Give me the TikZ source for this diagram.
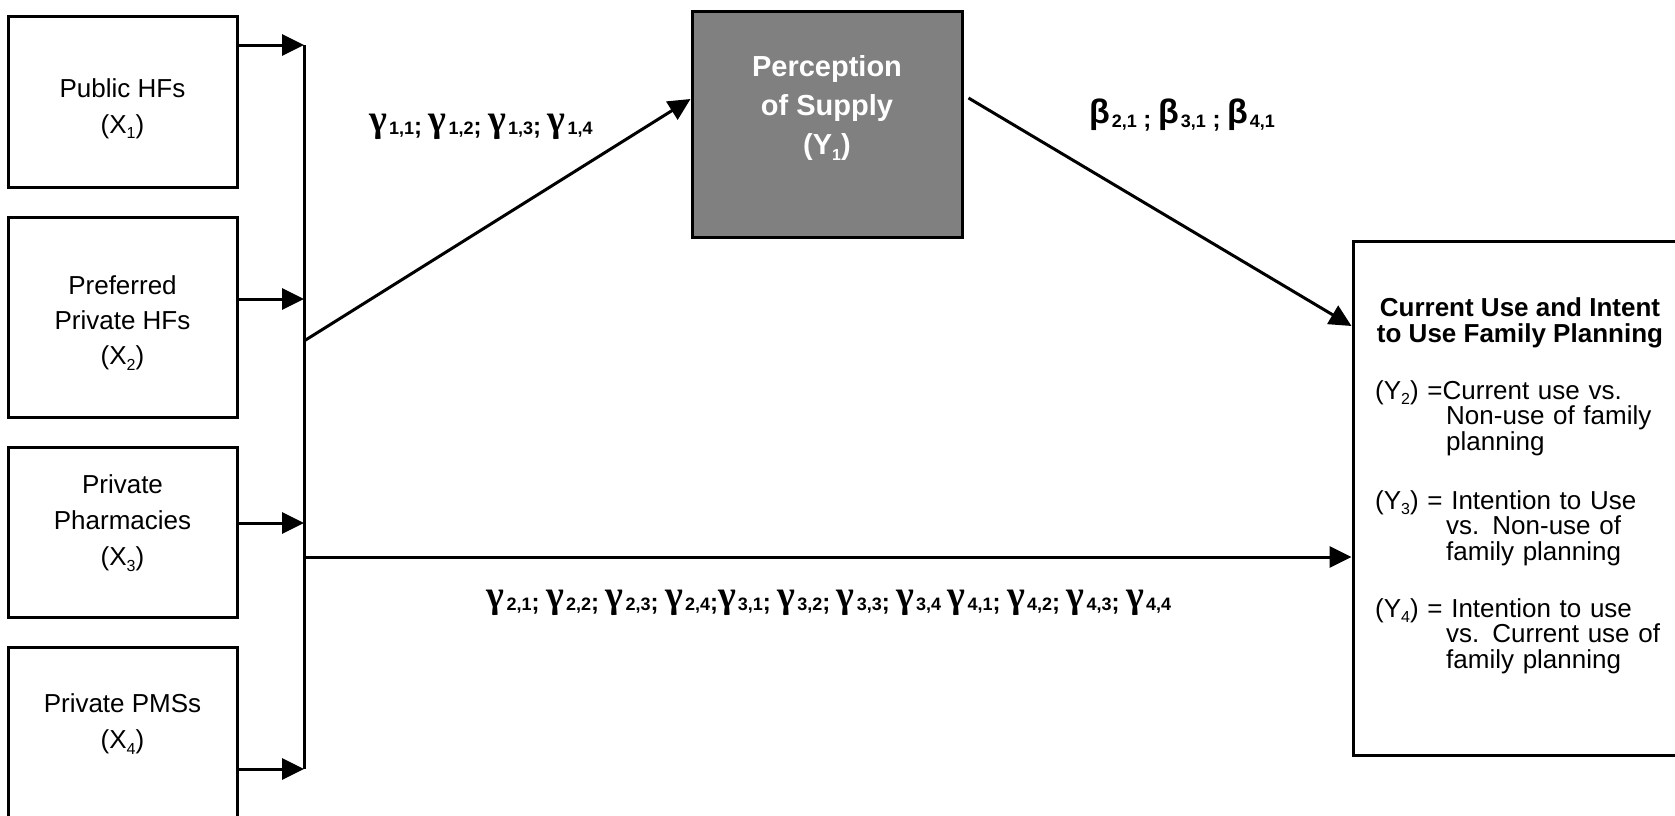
\documentclass[tikz,border=0pt]{standalone}
\usepackage{fontspec}
\setmainfont{Liberation Sans}
\newfontfamily\greekserif{Liberation Serif}
\usetikzlibrary{arrows.meta,calc}
\newcommand\sbs[1]{\raisebox{-0.22em}{\fontsize{16}{16}\selectfont #1}}
\newcommand\gm[1]{\raisebox{3.5pt}{\greekserif\bfseries\fontsize{38}{38}\selectfont γ}\kern2pt{\fontsize{18}{18}\selectfont #1}}
\newcommand\bt[1]{\raisebox{4pt}{\bfseries\fontsize{34}{34}\selectfont β}\kern2pt{\fontsize{18}{18}\selectfont #1}}
\tikzset{
  box/.style={draw, line width=3pt, inner sep=0pt},
  lbl/.style={align=center, inner sep=0pt, font=\fontsize{26}{36}\selectfont},
  conn/.style={line width=3pt},
  arr/.style={line width=3pt, -{Triangle[length=22pt,width=21pt]}},
  coef/.style={inner sep=0pt, font=\bfseries\fontsize{24}{24}\selectfont},
  item/.style={anchor=west, inner sep=0pt, text width=300pt, align=left, font=\fontsize{26}{25.5}\selectfont}
}
\begin{document}
\begin{tikzpicture}[x=1pt,y=-1pt]
\useasboundingbox (0,0) rectangle (1675,815);
\fill[white] (0,0) rectangle (1675,815);
\clip (0,0) rectangle (1675,815);
% left boxes
\node[box, minimum width=229pt, minimum height=171pt] (x1) at (122.5,101.5) {};
\node[box, minimum width=229pt, minimum height=200pt] (x2) at (122.5,317) {};
\node[box, minimum width=229pt, minimum height=170pt] (x3) at (122.5,532) {};
\node[box, minimum width=229pt, minimum height=203pt] (x4) at (122.5,748.5) {};
\node[lbl] (t1) at (122.5,108.5) {Public HFs\\(X\sbs{1})};
\node[lbl, font=\fontsize{26}{35}\selectfont] (t2) at (122.5,323) {Preferred\\Private HFs\\(X\sbs{2})};
\node[lbl] (t3) at (122.5,523) {Private\\Pharmacies\\(X\sbs{3})};
\node[lbl] (t4) at (122.5,724) {Private PMSs\\(X\sbs{4})};
% bar
\coordinate (bt) at (304,45);
\coordinate (b2) at (304,299);
\coordinate (b3) at (304,523);
\coordinate (bb) at (304,769);
\coordinate (bd) at (304,341);
\coordinate (bh) at (304,557);
\draw[conn] (bt) -- (bb);
\draw[arr] (x1.east |- bt) -- (bt);
\draw[arr] (x2.east |- b2) -- (b2);
\draw[arr] (x3.east |- b3) -- (b3);
\draw[arr] (x4.east |- bb) -- (bb);
% perception box
\node[box, fill={rgb,255:red,128;green,128;blue,128}, minimum width=270pt, minimum height=226pt] (py) at (827,124) {};
\node[align=center, inner sep=0pt, text=white, font=\bfseries\fontsize{29}{39}\selectfont] (pt) at (827,108) {Perception\\of Supply\\(Y\sbs{1})};
% right box
\node[box, minimum width=347pt, minimum height=514pt] (cu) at (1526.5,498) {};
\node[align=center, inner sep=0pt, font=\bfseries\fontsize{26}{26.5}\selectfont] (ct) at (1520,323) {Current Use and Intent\\to Use Family Planning};
\node[item] (y2) at (1375,418) {(Y\sbs{2}) =Current use vs.\\\hspace*{71pt}Non-use of family\\\hspace*{71pt}planning};
\node[item] (y3) at (1375,528) {(Y\sbs{3}) = Intention to Use\\\hspace*{71pt}vs. Non-use of\\\hspace*{71pt}family planning};
\node[item] (y4) at (1375,636) {(Y\sbs{4}) = Intention to use\\\hspace*{71pt}vs. Current use of\\\hspace*{71pt}family planning};
% connectors
\draw[arr] (bd) -- ($(py.west)+(0,-25)$);
\draw[arr] ($(py.east)+(5,-26)$) -- ($(cu.west)+(0,-172)$);
\draw[arr] (bh) -- (cu.west |- bh);
% coefficient labels
\node[coef] (g1) at (481,126.5) {\gm{1,1}; \gm{1,2}; \gm{1,3}; \gm{1,4}};
\node[coef] (g2) at (829,602.5) {\gm{2,1}; \gm{2,2}; \gm{2,3}; \gm{2,4};\gm{3,1}; \gm{3,2}; \gm{3,3}; \gm{3,4} \gm{4,1}; \gm{4,2}; \gm{4,3}; \gm{4,4}};
\node[coef] (b1) at (1182,115.5) {\bt{2,1} ; \bt{3,1} ; \bt{4,1}};
\end{tikzpicture}
\end{document}
